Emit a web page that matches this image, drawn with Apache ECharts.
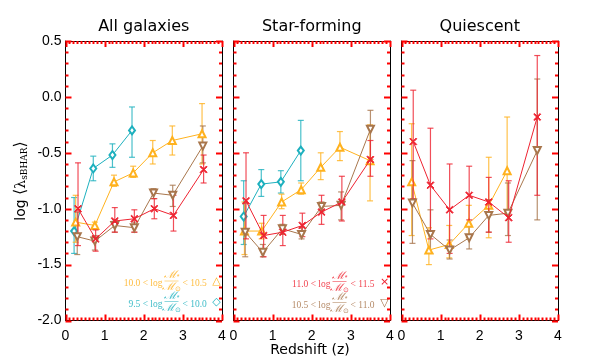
<!DOCTYPE html>
<html>
<head>
<meta charset="utf-8">
<script src="https://cdn.jsdelivr.net/npm/echarts@6/dist/echarts.min.js"></script>
<style>
  html, body { margin: 0; padding: 0; background: #fff; }
  #chart { width: 598px; height: 363px; }
</style>
</head>
<body>
<div id="chart"></div>
<script>
// rows: [redshift, log <lambda_sBHAR>, error low, error high]
// all galaxies
const all95 = [[0.22, -1.20, -1.40, -0.90], [0.71, -0.64, -0.75, -0.53], [1.20, -0.52, -0.63, -0.42], [1.70, -0.30, -0.54, -0.09]]
const all100 = [[0.26, -1.12, -1.30, -0.88], [0.75, -1.15, -1.18, -1.12], [1.24, -0.76, -0.80, -0.70], [1.73, -0.68, -0.72, -0.62],
  [2.23, -0.50, -0.60, -0.39], [2.73, -0.39, -0.52, -0.26], [3.49, -0.33, -0.60, -0.06]]
const all105 = [[0.30, -1.25, -1.41, -1.03], [0.75, -1.29, -1.37, -1.24], [1.26, -1.15, -1.21, -1.10], [1.76, -1.17, -1.21, -1.12],
  [2.25, -0.86, -0.91, -0.82], [2.74, -0.88, -0.98, -0.79], [3.51, -0.44, -0.59, -0.26]]
const all110 = [[0.32, -1.00, -1.33, -0.59], [0.77, -1.27, -1.38, -1.19], [1.26, -1.11, -1.21, -0.99], [1.76, -1.09, -1.21, -1.01],
  [2.27, -1.00, -1.09, -0.91], [2.76, -1.06, -1.20, -0.88], [3.53, -0.65, -0.77, -0.52]]
// star-forming
const sf95 = [[0.26, -1.07, -1.32, -0.75], [0.71, -0.78, -0.89, -0.65], [1.21, -0.76, -0.86, -0.66], [1.72, -0.48, -0.75, -0.21]]
const sf100 = [[0.28, -1.20, -1.41, -0.94], [0.72, -1.20, -1.27, -1.13], [1.23, -0.94, -1.00, -0.87], [1.73, -0.83, -0.87, -0.77],
  [2.23, -0.63, -0.74, -0.50], [2.72, -0.45, -0.57, -0.31], [3.49, -0.57, -0.93, -0.25]]
const sf105 = [[0.30, -1.21, -1.43, -0.95], [0.75, -1.39, -1.43, -1.32], [1.25, -1.18, -1.23, -1.14], [1.74, -1.23, -1.27, -1.17],
  [2.25, -0.98, -1.03, -0.94], [2.75, -0.97, -1.10, -0.85], [3.50, -0.29, -0.56, -0.12]]
const sf110 = [[0.32, -0.93, -1.27, -0.50], [0.77, -1.24, -1.43, -1.06], [1.26, -1.21, -1.33, -1.06], [1.76, -1.15, -1.25, -1.04],
  [2.25, -1.03, -1.14, -0.88], [2.77, -0.94, -1.11, -0.71], [3.50, -0.56, -0.71, -0.39]]
// quiescent
const q100 = [[0.26, -0.76, -1.24, -0.24], [0.70, -1.37, -1.50, -1.17], [1.22, -1.32, -1.44, -1.15], [1.72, -1.13, -1.26, -0.97],
  [2.23, -0.97, -1.26, -0.54], [2.70, -0.66, -1.03, -0.18]]
const q105 = [[0.28, -0.95, -1.31, -0.57], [0.74, -1.23, -1.40, -1.01], [1.23, -1.37, -1.45, -1.28], [1.73, -1.26, -1.36, -1.16],
  [2.23, -1.06, -1.21, -0.92], [2.72, -1.04, -1.24, -0.77], [3.47, -0.48, -1.10, 0.16]]
const q110 = [[0.30, -0.40, -0.91, 0.06], [0.74, -0.79, -1.27, -0.28], [1.23, -1.01, -1.40, -0.60], [1.73, -0.88, -1.10, -0.62],
  [2.23, -0.94, -1.21, -0.72], [2.74, -1.08, -1.30, -0.75], [3.47, -0.18, -0.88, 0.37]]

const panelTitles = ['All galaxies', 'Star-forming', 'Quiescent']
const binLimits = [['9.5', '10.0'], ['10.0', '10.5'], ['10.5', '11.0'], ['11.0', '11.5']]
const panels = [[all95, all100, all105, all110], [sf95, sf100, sf105, sf110], [null, q100, q105, q110]]
const xTicks = [0, 1, 2, 3, 4]
const yTicks = [-2.0, -1.5, -1.0, -0.5, 0.0, 0.5]

const binColors = ['#1db0be', '#ffb21e', '#a8764c', '#ee2230']
const binMarkers = ['◇', '△', '▽', '×']
const xPath = 'path://M0,1L1,0L5,4L9,0L10,1L6,5L10,9L9,10L5,6L1,10L0,9L4,5Z'

const gridLeft = [65.5, 233.5, 401.5]
const gridW = 156.5

let chart = echarts.init(document.getElementById('chart'))

let grids = []
let xAxes = []
let yAxes = []
let series = []
let graphics = []

// tick rows: [x, y, major, kind] kind 0 = x tick, 1 = y tick
let tickRows = []
xTicks.forEach((t, i) => {
  tickRows.push([t, yTicks[0], 1, 0])
  if (i < xTicks.length - 1) {
    for (let k = 1; k < 10; k++) tickRows.push([t + k * (xTicks[i + 1] - t) / 10, yTicks[0], 0, 0])
  }
})
yTicks.forEach((t, i) => {
  tickRows.push([xTicks[0], t, 1, 1])
  if (i < yTicks.length - 1) {
    for (let k = 1; k < 5; k++) tickRows.push([xTicks[0], t + k * (yTicks[i + 1] - t) / 5, 0, 1])
  }
})

function xAxis (g, pos) {
  return {
    type: 'value', gridIndex: g, position: pos, min: xTicks[0], max: xTicks[xTicks.length - 1], interval: 1,
    axisLine: {show: true, onZero: false, lineStyle: {color: '#000', width: 1}},
    axisTick: {show: false},
    minorTick: {show: false},
    splitLine: {show: false},
    axisLabel: {show: pos === 'bottom', color: '#000', fontFamily: 'Liberation Sans', fontSize: 14, margin: 9}
  }
}
function yAxis (g, pos) {
  return {
    type: 'value', gridIndex: g, position: pos, min: yTicks[0], max: yTicks[yTicks.length - 1], interval: 0.5,
    axisLine: {show: true, onZero: false, lineStyle: {color: '#000', width: 1}},
    axisTick: {show: false},
    minorTick: {show: false},
    splitLine: {show: false},
    axisLabel: {show: g === 0 && pos === 'left', color: '#000', fontFamily: 'Liberation Sans', fontSize: 14, margin: 4,
      formatter: v => v.toFixed(1)}
  }
}

function errorBars (color) {
  return function (params, api) {
    let x = api.value(0)
    let top = api.coord([x, api.value(3)])
    let bot = api.coord([x, api.value(2)])
    let w = 3
    let style = () => ({stroke: color, lineWidth: 1.2, opacity: 0.8})
    return {
      type: 'group',
      children: [
        {type: 'line', shape: {x1: top[0], y1: top[1], x2: bot[0], y2: bot[1]}, style: style()},
        {type: 'line', shape: {x1: top[0] - w, y1: top[1], x2: top[0] + w, y2: top[1]}, style: style()},
        {type: 'line', shape: {x1: bot[0] - w, y1: bot[1], x2: bot[0] + w, y2: bot[1]}, style: style()}
      ]
    }
  }
}

// inward ticks on all four edges of a panel
function frameTicks (params, api) {
  let cs = params.coordSys
  let len = api.value(2) ? 6 : 3
  let p = api.coord([api.value(0), api.value(1)])
  let st = () => ({stroke: '#ff0000', lineWidth: 2})
  if (api.value(3) === 0) {
    let px = Math.round(p[0]) + 0.5
    let y0 = cs.y
    let y1 = cs.y + cs.height
    return {type: 'group', children: [
      {type: 'line', shape: {x1: px, y1: y1, x2: px, y2: y1 - len}, style: st()},
      {type: 'line', shape: {x1: px, y1: y0, x2: px, y2: y0 + len}, style: st()}
    ]}
  }
  let py = Math.round(p[1]) + 0.5
  let x0 = cs.x
  let x1 = cs.x + cs.width
  return {type: 'group', children: [
    {type: 'line', shape: {x1: x0, y1: py, x2: x0 + len, y2: py}, style: st()},
    {type: 'line', shape: {x1: x1, y1: py, x2: x1 - len, y2: py}, style: st()}
  ]}
}

panels.forEach((bins, g) => {
  grids.push({left: gridLeft[g], top: 41, width: gridW, height: 279.5})
  xAxes.push(xAxis(g, 'bottom'), xAxis(g, 'top'))
  yAxes.push(yAxis(g, 'left'), yAxis(g, 'right'))
  graphics.push({
    type: 'text', x: gridLeft[g] + gridW / 2, y: 27,
    style: {text: panelTitles[g], fill: '#000', font: '16px "DejaVu Sans"', textAlign: 'center', textVerticalAlign: 'middle'}
  })
  series.push({
    type: 'custom', xAxisIndex: 2 * g, yAxisIndex: 2 * g,
    renderItem: frameTicks, encode: {x: 0, y: 1},
    data: tickRows, clip: false, silent: true, z: 10
  })
  bins.forEach((rows, b) => {
    if (!rows) return
    let color = binColors[b]
    series.push({
      type: 'custom', xAxisIndex: 2 * g, yAxisIndex: 2 * g,
      renderItem: errorBars(color),
      encode: {x: 0, y: [1, 2, 3]},
      data: rows, z: 2 + b
    })
    let sym = {symbol: 'emptyCircle', symbolSize: 7, symbolRotate: 0}
    if (b === 0) sym = {symbol: 'emptyDiamond', symbolSize: [6, 8], symbolRotate: 0}
    if (b === 1) sym = {symbol: 'emptyTriangle', symbolSize: 7, symbolRotate: 0}
    if (b === 2) sym = {symbol: 'emptyTriangle', symbolSize: 7, symbolRotate: 180}
    if (b === 3) sym = {symbol: xPath, symbolSize: 7, symbolRotate: 0}
    series.push({
      type: 'line', xAxisIndex: 2 * g, yAxisIndex: 2 * g,
      data: rows.map(r => [r[0], r[1]]),
      symbol: sym.symbol, symbolSize: sym.symbolSize, symbolRotate: sym.symbolRotate,
      showAllSymbol: true,
      lineStyle: {color: color, width: 1},
      itemStyle: {color: color, borderColor: color, borderWidth: 1},
      z: 3 + b
    })
  })
})

// legend rows: [panel, bin, marker x, center y]
const legendRows = [[0, 1, 216.5, 281.5], [0, 0, 216.5, 302], [1, 3, 384.5, 282], [1, 2, 384.5, 303]]
legendRows.forEach(r => {
  let b = r[1]
  let mx = r[2]
  let yc = r[3]
  let color = binColors[b]
  let cx = mx - 45
  let font = '9.5px "Liberation Serif"'
  let frac = 'italic 11px "DejaVu Serif"'
  graphics.push(
    {type: 'text', x: cx - 9, y: yc + 2, style: {text: binLimits[b][0] + ' < log', fill: color, font: font, textAlign: 'right', textVerticalAlign: 'middle', opacity: 0.85}},
    {type: 'text', x: cx, y: yc - 6, style: {text: 'ℳ{s|*}', fill: color, font: frac, textAlign: 'center', textVerticalAlign: 'middle', opacity: 0.85,
      rich: {s: {fontSize: 7, fill: color, verticalAlign: 'bottom'}}}},
    {type: 'line', shape: {x1: cx - 7, y1: yc - 0.5, x2: cx + 7, y2: yc - 0.5}, style: {stroke: color, lineWidth: 0.6, opacity: 0.85}},
    {type: 'text', x: cx, y: yc + 6, style: {text: 'ℳ{s|⊙}', fill: color, font: frac, textAlign: 'center', textVerticalAlign: 'middle', opacity: 0.85,
      rich: {s: {fontSize: 7, fill: color, verticalAlign: 'bottom'}}}},
    {type: 'text', x: cx + 11, y: yc + 2, style: {text: '< ' + binLimits[b][1], fill: color, font: font, textAlign: 'left', textVerticalAlign: 'middle', opacity: 0.85}},
    {type: 'text', x: mx, y: yc, style: {text: binMarkers[b], fill: color, font: '11px "DejaVu Sans"', textAlign: 'center', textVerticalAlign: 'middle'}}
  )
})

// axis titles
graphics.push(
  {type: 'text', x: 310, y: 350, style: {text: 'Redshift (z)', fill: '#000', font: '14px "DejaVu Sans"', textAlign: 'center', textVerticalAlign: 'middle'}},
  {type: 'text', x: 21, y: 181, rotation: Math.PI / 2,
    style: {text: 'log {b|⟨}{l|λ}{s|sBHAR}{b|⟩}', fill: '#000', font: '14px "DejaVu Sans"', textAlign: 'center', textVerticalAlign: 'middle',
      rich: {
        b: {fontSize: 16, fontFamily: 'DejaVu Serif', fill: '#000'},
        l: {fontSize: 14, fontFamily: 'DejaVu Serif', fill: '#000'},
        s: {fontSize: 9, fontFamily: 'DejaVu Serif', fill: '#000', verticalAlign: 'bottom', padding: [6, 0, 0, 0]}
      }}}
)

chart.setOption({
  animation: false,
  grid: grids,
  xAxis: xAxes,
  yAxis: yAxes,
  graphic: graphics,
  series: series
})
</script>
</body>
</html>
